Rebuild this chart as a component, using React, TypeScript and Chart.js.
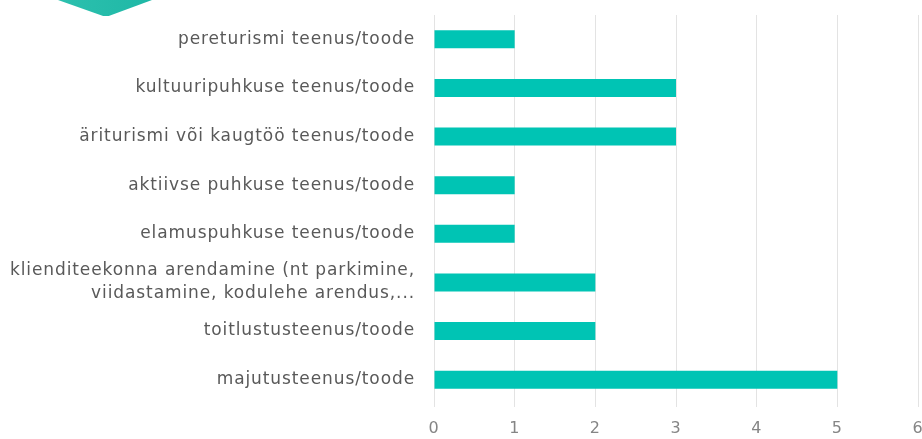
import React, { useEffect, useRef } from "react";
import { Chart, registerables } from "chart.js";

Chart.register(...registerables);

const categories: (string | string[])[] = [
  "pereturismi teenus/toode",
  "kultuuripuhkuse teenus/toode",
  "äriturismi või kaugtöö teenus/toode",
  "aktiivse puhkuse teenus/toode",
  "elamuspuhkuse teenus/toode",
  ["klienditeekonna arendamine (nt parkimine,", "viidastamine, kodulehe arendus,..."],
  "toitlustusteenus/toode",
  "majutusteenus/toode",
];

const values = [1, 3, 3, 1, 1, 2, 2, 5];

const axisMin = 0;
const axisMax = 6;

const spacingPlugin = {
  id: "letterSpacing",
  beforeUpdate(chart: any) {
    chart.ctx.letterSpacing = "0.9px";
  },
  beforeDraw(chart: any) {
    chart.ctx.letterSpacing = "0.9px";
  },
};

export default function App() {
  const canvasRef = useRef<HTMLCanvasElement | null>(null);

  useEffect(() => {
    if (!canvasRef.current) return;
    const font = { family: "'DejaVu Sans', sans-serif", size: 17 };
    const chart = new Chart(canvasRef.current, {
      type: "bar",
      data: {
        labels: categories,
        datasets: [
          {
            data: values,
            backgroundColor: "#00c4b4",
            barPercentage: 0.37,
            categoryPercentage: 1,
          },
        ],
      },
      plugins: [spacingPlugin],
      options: {
        indexAxis: "y",
        animation: false,
        responsive: false,
        maintainAspectRatio: false,
        layout: { padding: { top: 15, right: 4, bottom: 0, left: 0 } },
        plugins: { legend: { display: false }, tooltip: { enabled: false } },
        scales: {
          x: {
            min: axisMin,
            max: axisMax,
            ticks: { stepSize: 1, color: "#858585", font: { family: font.family, size: 16 }, padding: 12 },
            grid: { color: "#e3e3e3", tickLength: 3 },
            border: { display: false },
            afterFit: (scale: any) => {
              scale.height = 35;
              scale.paddingLeft = 0;
              scale.paddingRight = 0;
            },
          },
          y: {
            grid: { display: false, drawTicks: false, tickLength: 0 },
            border: { display: false },
            ticks: { color: "#595959", font: { ...font, lineHeight: 1.35 }, padding: 19, autoSkip: false },
            afterFit: (scale: any) => {
              scale.width = 434;
              scale.paddingTop = 0;
              scale.paddingBottom = 0;
            },
          },
        },
      },
    });
    return () => chart.destroy();
  }, []);

  return (
    <div style={{ position: "absolute", left: 0, top: 0, width: 922, height: 439, background: "#fff" }}>
      <div
        style={{
          position: "absolute",
          left: 58,
          top: 0,
          width: 94,
          height: 16,
          background: "linear-gradient(90deg, #2cc0ae, #1fb8a6)",
          clipPath: "polygon(0 0, 100% 0, 54% 100%, 48% 100%)",
        }}
      />
      <canvas ref={canvasRef} width={922} height={439} style={{ position: "absolute", left: 0, top: 0 }} />
    </div>
  );
}
